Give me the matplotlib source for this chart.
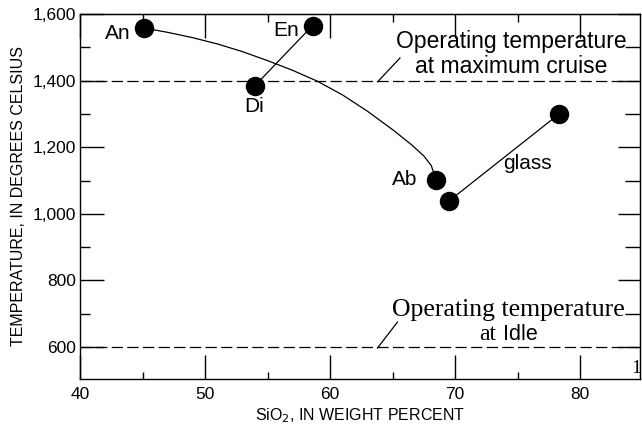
import matplotlib.pyplot as plt
from matplotlib.ticker import MultipleLocator, FuncFormatter

plt.rcParams['font.family'] = ['Liberation Sans', 'DejaVu Sans']

# mineral end members: SiO2 (wt %) and melting temperature (deg C)
an_x, an_y = 45.1, 1558
di_x, di_y = 54.0, 1385
en_x, en_y = 58.6, 1565
ab_x, ab_y = 68.5, 1101
glass_x = [69.5, 78.3]
glass_y = [1038, 1299]

# hand-drawn curve An -> Ab
curve_x = [45.1, 47, 49, 51, 53, 55, 57, 59, 61, 63, 65, 66.5, 67.5, 68.1, 68.5]
curve_y = [1558, 1545, 1529, 1510, 1487, 1460, 1431, 1398, 1357, 1308, 1253, 1208, 1174, 1145, 1101]

# operating temperatures
cruise_temp = 1400
idle_temp = 600

fig = plt.figure(figsize=(6.42, 4.32), dpi=100)
ax = fig.add_axes([80/642, 53/432, 560/642, 365/432])

ax.plot(curve_x, curve_y, color='black', lw=0.9)
ax.plot([di_x, en_x], [di_y, en_y], color='black', lw=0.9)
ax.plot(glass_x, glass_y, color='black', lw=0.9)

pts_x = [an_x, di_x, en_x, ab_x] + glass_x
pts_y = [an_y, di_y, en_y, ab_y] + glass_y
ax.plot(pts_x, pts_y, 'o', color='black', markersize=13, zorder=3, clip_on=False)

ax.axhline(cruise_temp, color='black', lw=0.9, dashes=(9, 3.5))
ax.axhline(idle_temp, color='black', lw=0.9, dashes=(9, 3.5))

lab = dict(fontsize=15, ha='center', va='center')
ax.text(43.0, 1540, 'An', **lab)
ax.text(56.5, 1549, 'En', **lab)
ax.text(53.9, 1321, 'Di', **lab)
ax.text(66.0, 1103, 'Ab', **lab)
ax.text(75.8, 1150, 'glass', **lab)

# cruise note
ax.text(74.5, 1480, 'Operating temperature\nat maximum cruise', fontsize=16.5,
        ha='center', va='center', linespacing=1.1)
ax.plot([65.6, 63.8], [1468, 1396], color='black', lw=0.9)

# idle note
serif = ['Liberation Serif', 'DejaVu Serif']
ax.text(74.3, 712, 'Operating temperature', fontsize=18.5, family=serif,
        ha='center', va='center')
ax.text(72.6, 621, 'at', fontsize=17, family=serif, ha='center', va='baseline')
ax.text(75.2, 621, 'Idle', fontsize=15.5, ha='center', va='baseline')
ax.plot([65.4, 63.8], [675, 597], color='black', lw=0.9)

ax.text(84.5, 537, '1', fontsize=14, family=serif, ha='center', va='center', clip_on=False)

ax.set_xlim(40, 84.8)
ax.set_ylim(504, 1600)
ax.xaxis.set_major_locator(MultipleLocator(10))
ax.xaxis.set_minor_locator(MultipleLocator(5))
ax.yaxis.set_major_locator(MultipleLocator(200))
ax.yaxis.set_minor_locator(MultipleLocator(100))
ax.yaxis.set_major_formatter(FuncFormatter(lambda v, p: f'{v:,.0f}'))

ax.tick_params(which='major', direction='in', length=17, width=1, labelsize=12.5, pad=6)
ax.tick_params(axis='y', which='major', pad=3)
ax.tick_params(which='minor', direction='in', length=7, width=1)
ax.tick_params(axis='x', which='minor', length=5)

top = ax.secondary_xaxis('top')
top.xaxis.set_major_locator(MultipleLocator(10))
top.xaxis.set_minor_locator(MultipleLocator(5))
top.tick_params(which='major', direction='in', length=17, width=1, labeltop=False)
top.tick_params(which='minor', direction='in', length=6, width=1)

right = ax.secondary_yaxis('right')
right.yaxis.set_major_locator(MultipleLocator(200))
right.yaxis.set_minor_locator(MultipleLocator(100))
right.tick_params(which='major', direction='in', length=16, width=1, labelright=False)
right.tick_params(which='minor', direction='in', length=11, width=1)

for s in ax.spines.values():
    s.set_linewidth(1.0)

ax.set_ylabel('TEMPERATURE, IN DEGREES CELSIUS', fontsize=11.5, labelpad=5)
ax.set_xlabel('SiO$_2$, IN WEIGHT PERCENT', fontsize=11.5, labelpad=3)

fig.savefig('out.png', dpi=100)
